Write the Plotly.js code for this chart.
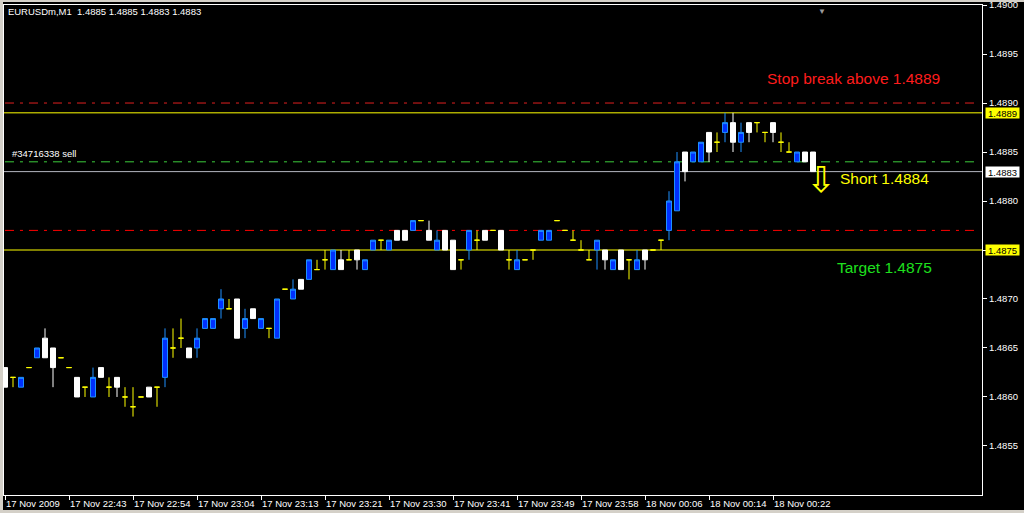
<!DOCTYPE html>
<html><head><meta charset="utf-8">
<script src="https://cdn.plot.ly/plotly-3.0.1.min.js"></script>
<style>
html,body{margin:0;padding:0;background:#d4d0c8;width:1024px;height:513px;overflow:hidden}
#chart{position:absolute;left:3px;top:2px;width:1021px;height:508px;background:#000}
</style></head><body><div id="chart"></div>
<script>
// ---- data (EURUSDm, M1) ----
const symbolHeader = 'EURUSDm,M1\u00a0\u00a01.4885 1.4885 1.4883 1.4883';
const opens = [
 1.4863,1.4862,1.4861,1.4863,1.4864,1.4866,1.4865,1.4864,1.4863,1.4862,
 1.4861,1.4860,1.4863,1.4861,1.4862,1.4860,1.4859,1.4860,1.4861,1.4861,
 1.4862,1.4865,1.4866,1.4865,1.4865,1.4867,1.4867,1.4869,1.4869,1.4870,
 1.4867,1.4869,1.4867,1.4867,1.4866,1.4871,1.4870,1.4872,1.4872,1.4873,
 1.4874,1.4873,1.4874,1.4874,1.4875,1.4873,1.4875,1.4876,1.4875,1.4877,
 1.4877,1.4877,1.4878,1.4877,1.4875,1.4877,1.4876,1.4874,1.4875,1.4876,
 1.4877,1.4877,1.4877,1.4874,1.4873,1.4874,1.4875,1.4876,1.4876,1.4878,
 1.4877,1.4876,1.4875,1.4874,1.4875,1.4875,1.4873,1.4875,1.4874,1.4873,
 1.4875,1.4875,1.4876,1.4877,1.4879,1.4885,1.4884,1.4884,1.4887,1.4886,
 1.4887,1.4888,1.4886,1.4888,1.4888,1.4887,1.4888,1.4886,1.4885,1.4884,
 1.4885,1.4885];
const highs = [
 1.4863,1.4862,1.4862,1.4863,1.4865,1.4867,1.4865,1.4864,1.4863,1.4862,
 1.4861,1.4863,1.4863,1.4862,1.4862,1.4861,1.4861,1.4860,1.4861,1.4861,
 1.4867,1.4867,1.4868,1.4865,1.4867,1.4868,1.4868,1.4871,1.4870,1.4870,
 1.4869,1.4869,1.4868,1.4867,1.4870,1.4871,1.4872,1.4872,1.4874,1.4874,
 1.4875,1.4875,1.4875,1.4875,1.4875,1.4874,1.4876,1.4876,1.4876,1.4877,
 1.4877,1.4878,1.4878,1.4878,1.4877,1.4877,1.4876,1.4874,1.4877,1.4877,
 1.4877,1.4877,1.4877,1.4875,1.4875,1.4874,1.4875,1.4877,1.4877,1.4878,
 1.4877,1.4877,1.4876,1.4875,1.4876,1.4875,1.4874,1.4875,1.4874,1.4875,
 1.4875,1.4875,1.4876,1.4881,1.4885,1.4885,1.4885,1.4886,1.4887,1.4887,
 1.4889,1.4889,1.4888,1.4888,1.4888,1.4887,1.4888,1.4887,1.4886,1.4885,
 1.4885,1.4885];
const lows = [
 1.4861,1.4861,1.4861,1.4863,1.4864,1.4864,1.4861,1.4864,1.4863,1.4860,
 1.4860,1.4860,1.4862,1.4860,1.4860,1.4859,1.4858,1.4860,1.4860,1.4859,
 1.4861,1.4864,1.4865,1.4864,1.4864,1.4867,1.4867,1.4868,1.4869,1.4866,
 1.4866,1.4868,1.4867,1.4866,1.4866,1.4871,1.4870,1.4871,1.4872,1.4873,
 1.4873,1.4873,1.4873,1.4874,1.4873,1.4873,1.4875,1.4875,1.4875,1.4876,
 1.4876,1.4877,1.4878,1.4876,1.4875,1.4875,1.4873,1.4873,1.4874,1.4875,
 1.4876,1.4877,1.4875,1.4873,1.4873,1.4874,1.4874,1.4876,1.4876,1.4878,
 1.4877,1.4876,1.4875,1.4874,1.4873,1.4873,1.4873,1.4873,1.4872,1.4873,
 1.4873,1.4875,1.4875,1.4876,1.4879,1.4882,1.4884,1.4884,1.4884,1.4885,
 1.4886,1.4885,1.4885,1.4886,1.4887,1.4886,1.4886,1.4885,1.4885,1.4884,
 1.4884,1.4883];
const closes = [
 1.4861,1.4862,1.4862,1.4863,1.4865,1.4864,1.4863,1.4864,1.4863,1.4860,
 1.4861,1.4862,1.4862,1.4861,1.4861,1.4860,1.4859,1.4860,1.4860,1.4861,
 1.4866,1.4865,1.4866,1.4864,1.4866,1.4868,1.4868,1.4870,1.4869,1.4866,
 1.4868,1.4868,1.4868,1.4867,1.4870,1.4871,1.4871,1.4871,1.4874,1.4873,
 1.4874,1.4875,1.4873,1.4874,1.4874,1.4874,1.4876,1.4876,1.4876,1.4876,
 1.4876,1.4878,1.4878,1.4876,1.4876,1.4875,1.4873,1.4874,1.4877,1.4876,
 1.4876,1.4877,1.4875,1.4874,1.4874,1.4874,1.4875,1.4877,1.4877,1.4878,
 1.4877,1.4876,1.4875,1.4874,1.4876,1.4874,1.4874,1.4873,1.4874,1.4874,
 1.4874,1.4875,1.4876,1.4880,1.4884,1.4883,1.4885,1.4886,1.4885,1.4886,
 1.4888,1.4886,1.4887,1.4887,1.4888,1.4887,1.4887,1.4886,1.4885,1.4885,
 1.4884,1.4883];
const tickBars   = [0,8,16,24,32,40,48,56,64,72,80,88,96];
const tickLabels = ['17 Nov 2009','17 Nov 22:43','17 Nov 22:54','17 Nov 23:04','17 Nov 23:13',
  '17 Nov 23:21','17 Nov 23:30','17 Nov 23:41','17 Nov 23:49','17 Nov 23:58',
  '18 Nov 00:06','18 Nov 00:14','18 Nov 00:22'];
const priceTicks = [1.4855, 1.4860, 1.4865, 1.4870, 1.4875, 1.4880, 1.4885, 1.4890, 1.4895, 1.4900];
const dashLevels = [1.4890, 1.4884, 1.4877];
const dashColors = ['#e02020', '#3ccc3c', '#ff0000'];
const solidLevels = [1.4889, 1.4875];
const orderLabel = '#34716338 sell';
const orderPrice = 1.4884;
const notes = ['Stop break above 1.4889', 'Short 1.4884', 'Target 1.4875'];
const noteBars = [106, 109.9, 109.9];
const notePrices = [1.48925, 1.48823, 1.48732];
const noteColors = ['#ff1c1c', '#ffff00', '#1ee01e'];
const arrowBar = 102.05;
const arrowPrice = 1.48822;

// ---- build ----
const FONT = 'Liberation Sans, Arial, sans-serif';
const up = {x:[],o:[],h:[],l:[],c:[]}, dn = {x:[],o:[],h:[],l:[],c:[]}, dj = {x:[],o:[],h:[],l:[],c:[]};
for (let i = 0; i < opens.length; i++) {
  const o = Math.round(opens[i]*1e4), c = Math.round(closes[i]*1e4);
  const g = c > o ? up : (c < o ? dn : dj);
  g.x.push(i); g.o.push(opens[i]); g.h.push(highs[i]); g.l.push(lows[i]); g.c.push(closes[i]);
}
function cs(g, lineCol, fillCol) {
  return {type:'candlestick', x:g.x, open:g.o, high:g.h, low:g.l, close:g.c,
    line:{width:1}, whiskerwidth:0, hoverinfo:'skip', showlegend:false,
    increasing:{line:{color:lineCol,width:1}, fillcolor:fillCol},
    decreasing:{line:{color:lineCol,width:1}, fillcolor:fillCol}};
}
const data = [cs(up,'#1e90ff','#0030ff'), cs(dn,'#ffffff','#ffffff'), cs(dj,'#ffff00','#ffff00')];

const shapes = [];
dashLevels.forEach((p,i)=>shapes.push({type:'line', xref:'paper', x0:0.001, x1:0.994, yref:'y', y0:p, y1:p,
  line:{color:dashColors[i], width:1, dash:'9px,6px,3px,6px'}, layer:'below'}));
solidLevels.forEach(p=>shapes.push({type:'line', xref:'paper', x0:0, x1:1, yref:'y', y0:p, y1:p,
  line:{color:'#ffff00', width:1}, layer:'below'}));
const lastClose = closes[closes.length-1];
shapes.push({type:'line', xref:'paper', x0:0, x1:1, yref:'y', y0:lastClose, y1:lastClose,
  line:{color:'#b4b6c0', width:1}, layer:'below'});

const annotations = [];
notes.forEach((t,i)=>annotations.push({text:t, x:noteBars[i], y:notePrices[i], xref:'x', yref:'y',
  showarrow:false, font:{family:FONT, size:15.5, color:noteColors[i]}}));
annotations.push({text:'\u21e9', x:arrowBar, y:arrowPrice, xref:'x', yref:'y', showarrow:false,
  font:{family:'DejaVu Sans', size:36, color:'#ffff00'}});
annotations.push({text:orderLabel, x:0.006, xref:'paper', xanchor:'left', y:orderPrice, yref:'y',
  yanchor:'bottom', yshift:1, showarrow:false, font:{family:FONT, size:9.5, color:'#ffffff'}});
// price tags on the right scale
[[solidLevels[0],'#ffff00'],[lastClose,'#ffffff'],[solidLevels[1],'#ffff00']].forEach(([p,bg])=>
  annotations.push({text:p.toFixed(4), x:1, xref:'paper', xanchor:'left', xshift:3, y:p, yref:'y',
    yanchor:'middle', showarrow:false, bgcolor:bg, width:33, height:10, borderpad:0,
    font:{family:FONT, size:9.5, color:'#000000'}}));
annotations.push({text:'\u25bc', x:102.1, xref:'x', y:1, yref:'paper', yanchor:'top', yshift:2,
  showarrow:false, font:{size:8, color:'#9a9a9a'}});

const layout = {
  width:1021, height:508,
  margin:{l:1, r:42, t:3, b:15, pad:0},
  paper_bgcolor:'#000000', plot_bgcolor:'#000000',
  title:{text:symbolHeader, xref:'paper', x:0.004, xanchor:'left', yref:'paper', y:0.986, yanchor:'middle',
    font:{family:FONT, size:9.5, color:'#ffffff'}, pad:{t:0,b:0,l:0,r:0}},
  showlegend:false, hovermode:false, dragmode:false,
  boxgap:0.375, boxgroupgap:0,
  xaxis:{type:'linear', range:[-0.125, 122.125], fixedrange:true, rangeslider:{visible:false},
    showgrid:false, zeroline:false, showline:true, linecolor:'#ffffff', linewidth:1, mirror:true,
    ticks:'outside', ticklen:4, tickwidth:1, tickcolor:'#ffffff', tickangle:0, automargin:false,
    tickmode:'array', tickvals:tickBars, ticktext:tickLabels, ticklabelposition:'outside right',
    ticklabeloverflow:'allow',
    tickfont:{family:FONT, size:9.5, color:'#ffffff'}},
  yaxis:{range:[1.4849995, 1.4900005], side:'right', fixedrange:true, automargin:false,
    showgrid:false, zeroline:false, showline:true, linecolor:'#ffffff', linewidth:1, mirror:true,
    tickmode:'array', tickvals:priceTicks, ticktext:priceTicks.map(v=>v.toFixed(4)),
    ticks:'outside', ticklen:4, tickwidth:1, tickcolor:'#ffffff', ticklabeloverflow:'allow',
    tickfont:{family:FONT, size:9.5, color:'#ffffff'}},
  shapes:shapes, annotations:annotations
};
Plotly.newPlot('chart', data, layout, {displayModeBar:false, staticPlot:true});
</script></body></html>
